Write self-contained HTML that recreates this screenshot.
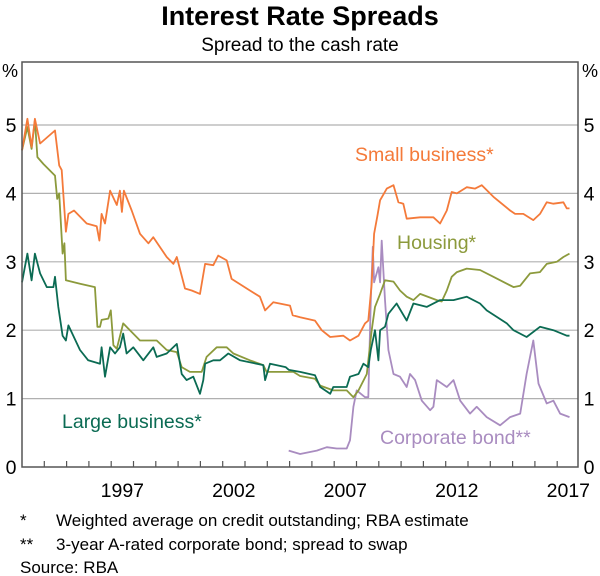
<!DOCTYPE html>
<html><head><meta charset="utf-8"><style>
body{margin:0;background:#fff;}
svg{display:block;font-family:"Liberation Sans",Arial,sans-serif;}
</style></head><body>
<svg id="chart" width="600" height="576" viewBox="0 0 600 576">
<text x="300" y="25" text-anchor="middle" font-size="27" font-weight="bold">Interest Rate Spreads</text>
<text x="300" y="51" text-anchor="middle" font-size="19">Spread to the cash rate</text>
<text x="10" y="77" text-anchor="middle" font-size="18">%</text>
<text x="590" y="77" text-anchor="middle" font-size="18">%</text>
<g id="grid"></g><g id="series"></g><g id="axes"></g>
<text x="355" y="161" fill="#f47a3a" font-size="19.5">Small business*</text>
<text x="397" y="249" fill="#8c9a3c" font-size="19.5">Housing*</text>
<text x="62" y="428" fill="#0b6b53" font-size="19.5">Large business*</text>
<text x="380" y="444" fill="#a98cc0" font-size="19.5">Corporate bond**</text>
<g font-size="17">
<text x="20" y="526">*</text>
<text x="56" y="526">Weighted average on credit outstanding; RBA estimate</text>
<text x="20" y="550">**</text>
<text x="56" y="550">3-year A-rated corporate bond; spread to swap</text>
<text x="20" y="573">Source:   RBA</text>
</g>
</svg>
<script>
const yTicks=[0,1,2,3,4,5];
const xLabels=[1997,2002,2007,2012,2017];
const smallYears=[1993.0,1993.24,1993.43,1993.58,1993.81,1994.48,1994.67,1994.78,1994.97,1995.08,1995.33,1995.9,1996.35,1996.47,1996.57,1996.72,1996.95,1997.25,1997.39,1997.48,1997.57,1997.92,1998.29,1998.67,1998.89,1999.49,1999.79,1999.94,2000.31,2000.61,2000.98,2001.21,2001.58,2001.8,2002.18,2002.4,2003.22,2003.67,2003.9,2004.27,2005.02,2005.14,2005.47,2006.14,2006.44,2006.82,2007.41,2007.71,2008.09,2008.38,2008.53,2008.68,2008.79,2008.94,2009.06,2009.36,2009.66,2009.88,2010.1,2010.25,2010.85,2011.45,2011.75,2012.05,2012.27,2012.5,2012.94,2013.32,2013.62,2014.14,2014.89,2015.11,2015.48,2015.93,2016.23,2016.53,2016.83,2017.28,2017.43,2017.55];
const smallValues=[4.63,5.09,4.68,5.09,4.73,4.92,4.41,4.34,3.44,3.70,3.75,3.56,3.52,3.31,3.70,3.56,4.04,3.83,4.04,3.73,4.04,3.75,3.41,3.27,3.36,3.07,2.97,3.07,2.61,2.58,2.53,2.97,2.95,3.09,3.02,2.75,2.58,2.49,2.29,2.41,2.36,2.22,2.19,2.14,2.0,1.90,1.92,1.85,1.92,2.10,2.14,2.68,3.41,3.68,3.90,4.07,4.12,3.87,3.85,3.63,3.65,3.65,3.56,3.75,4.02,4.0,4.09,4.07,4.12,3.95,3.75,3.70,3.70,3.61,3.70,3.87,3.85,3.87,3.78,3.78];
const housingYears=[1993.0,1993.24,1993.43,1993.58,1993.69,1993.96,1994.48,1994.58,1994.67,1994.82,1994.9,1994.97,1995.6,1996.27,1996.38,1996.5,1996.57,1996.87,1996.98,1997.1,1997.25,1997.54,1998.29,1999.04,1999.49,1999.94,2000.16,2000.53,2001.06,2001.28,2001.73,2002.18,2002.48,2003.22,2003.82,2003.97,2005.17,2005.47,2006.14,2006.37,2006.96,2007.56,2007.86,2008.09,2008.46,2008.68,2008.83,2009.06,2009.28,2009.66,2009.95,2010.25,2010.55,2010.85,2011.6,2011.82,2012.05,2012.27,2012.5,2012.94,2013.54,2014.14,2014.74,2015.04,2015.34,2015.78,2016.23,2016.53,2016.98,2017.28,2017.55];
const housingValues=[4.63,4.97,4.65,5.07,4.53,4.43,4.26,3.92,4.0,3.12,3.27,2.73,2.68,2.63,2.05,2.05,2.15,2.17,2.29,1.78,1.73,2.10,1.85,1.85,1.71,1.68,1.46,1.39,1.39,1.61,1.75,1.75,1.66,1.56,1.49,1.39,1.39,1.33,1.29,1.19,1.12,1.12,1.02,1.12,1.36,2.0,2.34,2.53,2.73,2.71,2.58,2.49,2.44,2.53,2.44,2.42,2.58,2.78,2.85,2.90,2.88,2.78,2.68,2.63,2.65,2.83,2.85,2.97,3.0,3.07,3.12];
const largeYears=[1993.0,1993.24,1993.43,1993.58,1993.81,1994.11,1994.41,1994.48,1994.63,1994.82,1994.97,1995.08,1995.6,1995.97,1996.5,1996.57,1996.72,1996.95,1997.17,1997.39,1997.54,1997.69,1997.99,1998.44,1998.89,1999.04,1999.49,1999.94,2000.16,2000.38,2000.68,2000.98,2001.13,2001.21,2001.58,2001.88,2002.25,2002.78,2003.82,2003.9,2004.12,2004.82,2004.97,2005.47,2006.14,2006.37,2006.82,2006.96,2007.56,2007.71,2008.09,2008.31,2008.53,2008.64,2008.83,2008.98,2009.06,2009.28,2009.43,2009.8,2010.25,2010.55,2011.15,2011.75,2012.35,2012.94,2013.54,2013.84,2014.74,2015.04,2015.63,2016.23,2016.83,2017.43,2017.55];
const largeValues=[2.70,3.12,2.73,3.12,2.83,2.63,2.63,2.78,2.34,1.92,1.85,2.07,1.71,1.56,1.51,1.75,1.32,1.75,1.66,1.75,1.95,1.66,1.75,1.56,1.75,1.61,1.66,1.80,1.36,1.27,1.32,1.07,1.27,1.51,1.56,1.56,1.66,1.56,1.49,1.27,1.51,1.46,1.42,1.39,1.34,1.17,1.07,1.17,1.17,1.32,1.36,1.51,1.46,1.71,2.0,1.56,2.0,2.05,2.24,2.39,2.14,2.39,2.34,2.44,2.44,2.49,2.39,2.29,2.10,2.0,1.90,2.05,2.0,1.92,1.92];
const bondYears=[2004.96,2005.47,2006.22,2006.67,2007.11,2007.56,2007.71,2007.86,2008.01,2008.38,2008.53,2008.64,2008.73,2008.79,2008.98,2009.06,2009.13,2009.28,2009.43,2009.66,2009.95,2010.25,2010.4,2010.63,2010.93,2011.3,2011.45,2011.6,2012.05,2012.35,2012.65,2013.09,2013.39,2013.84,2014.44,2014.89,2015.34,2015.63,2015.93,2016.16,2016.53,2016.83,2017.13,2017.55];
const bondValues=[0.24,0.19,0.24,0.29,0.27,0.27,0.39,0.88,1.12,1.02,1.02,2.44,3.22,2.70,2.92,2.70,3.31,2.44,1.71,1.36,1.32,1.17,1.36,1.27,0.97,0.83,0.88,1.27,1.17,1.27,0.97,0.78,0.88,0.73,0.61,0.73,0.78,1.36,1.85,1.22,0.93,0.97,0.78,0.73];

const NS='http://www.w3.org/2000/svg';
const L=22,R=578,T=62,B=467;
function xs(yr){return L+(yr-1993)*22.3;}
function ys(v){return B-v*68.4;}
function mk(tag,attrs,parent){const e=document.createElementNS(NS,tag);for(const k in attrs)e.setAttribute(k,attrs[k]);parent.appendChild(e);return e;}
const grid=document.getElementById('grid'),axes=document.getElementById('axes'),ser=document.getElementById('series');
yTicks.forEach(v=>{
  if(v>0){const g=mk('line',{x1:L,x2:R,y1:ys(v),y2:ys(v),stroke:'#b0b0b0','stroke-width':1.2},grid);
  
  }
  const t1=mk('text',{x:11,y:ys(v)+7,'text-anchor':'middle','font-size':19.5},axes);t1.textContent=v;
  
  
  const t2=mk('text',{x:589,y:ys(v)+7,'text-anchor':'middle','font-size':19.5},axes);t2.textContent=v;
  
  
});
const frame=mk('rect',{x:L,y:T,width:R-L,height:B-T,fill:'none',stroke:'#555','stroke-width':1.5},axes);


for(let yr=1994;yr<=2017;yr++){const tk=mk('line',{x1:xs(yr),x2:xs(yr),y1:B,y2:B-6,stroke:'#555','stroke-width':1.2},axes);
  
  }
xLabels.forEach(yr=>{const t=mk('text',{x:xs(yr+0.5),y:497,'text-anchor':'middle','font-size':19.5},axes);t.textContent=yr;
  
  });
function line(years,vals,color,name){
  const d=years.map((y,i)=>(i?'L':'M')+xs(y).toFixed(1)+','+ys(vals[i]).toFixed(1)).join('');
  const p=mk('path',{d:d,fill:'none',stroke:color,'stroke-width':1.8,'stroke-linejoin':'round'},ser);
  
  
}
line(bondYears,bondValues,'#a98cc0','corporate-bond-line');
line(housingYears,housingValues,'#8c9a3c','housing-line');
line(largeYears,largeValues,'#0b6b53','large-business-line');
line(smallYears,smallValues,'#f47a3a','small-business-line');
</script>
</body></html>
